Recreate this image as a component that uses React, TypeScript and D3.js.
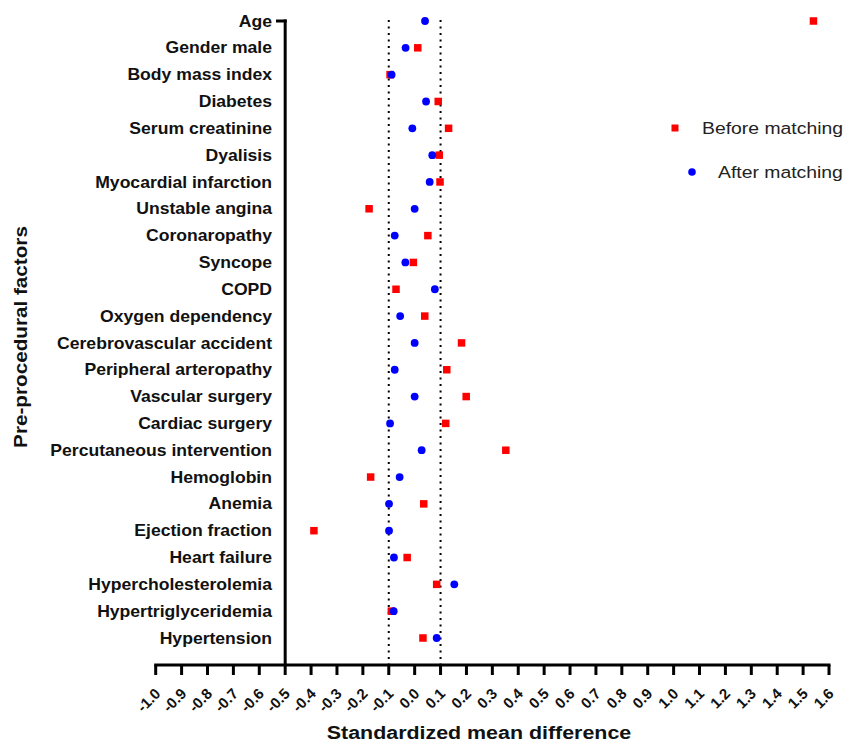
import React from 'react';
import * as d3 from 'd3';

const factors = [
  'Age', 'Gender male', 'Body mass index', 'Diabetes', 'Serum creatinine', 'Dyalisis',
  'Myocardial infarction', 'Unstable angina', 'Coronaropathy', 'Syncope', 'COPD',
  'Oxygen dependency', 'Cerebrovascular accident', 'Peripheral arteropathy', 'Vascular surgery',
  'Cardiac surgery', 'Percutaneous intervention', 'Hemoglobin', 'Anemia', 'Ejection fraction',
  'Heart failure', 'Hypercholesterolemia', 'Hypertriglyceridemia', 'Hypertension',
];

const before = [
  1.54, 0.012, -0.095, 0.091, 0.131, 0.095, 0.098, -0.176, 0.051, -0.005, -0.072, 0.039,
  0.181, 0.124, 0.199, 0.12, 0.352, -0.17, 0.035, -0.389, -0.029, 0.085, -0.09, 0.032,
];

const after = [
  0.04, -0.035, -0.089, 0.044, -0.009, 0.068, 0.058, 0.0, -0.077, -0.036, 0.078, -0.056,
  0.0, -0.077, 0.0, -0.095, 0.027, -0.058, -0.099, -0.099, -0.08, 0.153, -0.081, 0.085,
];

const xTicks = d3.range(-10, 17).map(i => i / 10);
const thresholds = [-0.1, 0.1];

const width = 845;
const height = 742;
const font = 'Liberation Sans, Arial, sans-serif';

export default function App() {
  const x = d3.scaleLinear().domain([-1, 1.6]).range([155.7, 829]);
  const y = d3.scalePoint().domain(factors).range([21, 638]);
  const axisY = 665;
  const yAxisX = x(-0.5);

  return (
    <svg width={width} height={height} style={{ position: 'absolute', left: 0, top: 0 }}>
      <rect width={width} height={height} fill="#fff" />
      {/* threshold lines */}
      {thresholds.map(t => (
        <line key={t} x1={x(t)} x2={x(t)} y1={20} y2={axisY}
          stroke="#000" strokeWidth={2} strokeDasharray="2,4.5" />
      ))}
      {/* y axis */}
      <line x1={yAxisX} x2={yAxisX} y1={19.5} y2={axisY} stroke="#000" strokeWidth={3} />
      <line x1={276} x2={yAxisX + 1.5} y1={21} y2={21} stroke="#000" strokeWidth={3} />
      {factors.map(f => (
        <text key={f} transform={`translate(272,${y(f)!}) scale(1.1,1)`} dy="0.35em" textAnchor="end"
          fontFamily={font} fontWeight="bold" fontSize={16} fill="#111">{f}</text>
      ))}
      {/* x axis */}
      <line x1={x(-1) - 1.5} x2={x(1.6) + 1.5} y1={axisY} y2={axisY} stroke="#000" strokeWidth={3} />
      {xTicks.map(t => (
        <g key={t}>
          <line x1={x(t)} x2={x(t)} y1={axisY} y2={axisY + 10} stroke="#000" strokeWidth={3} />
          <text transform={`translate(${x(t) + 2},${axisY + 26}) rotate(-45)`} textAnchor="end"
            dy="0.35em" fontFamily={font} fontWeight="bold" fontSize={15} fill="#111">
            {t.toFixed(1)}
          </text>
        </g>
      ))}
      {/* points */}
      {factors.map((f, i) => (
        <g key={f}>
          <rect x={x(before[i]) - 3.75} y={y(f)! - 3.75} width={7.5} height={7.5} fill="#f00" />
          <circle cx={x(after[i])} cy={y(f)!} r={3.9} fill="#00f" />
        </g>
      ))}
      {/* legend */}
      <rect x={671.5} y={124.5} width={7} height={7} fill="#f00" />
      <text transform="translate(702,128) scale(1.14,1)" dy="0.35em" fontFamily={font} fontSize={17} fill="#222">Before matching</text>
      <circle cx={692} cy={172} r={3.8} fill="#00f" />
      <text transform="translate(718,172) scale(1.14,1)" dy="0.35em" fontFamily={font} fontSize={17} fill="#222">After matching</text>
      {/* titles */}
      <text transform="translate(479,739) scale(1.19,1)" textAnchor="middle" fontFamily={font} fontWeight="bold" fontSize={18} fill="#111">
        Standardized mean difference
      </text>
      <text transform="translate(21,337) rotate(-90) scale(1.15,1)" textAnchor="middle" dy="0.35em"
        fontFamily={font} fontWeight="bold" fontSize={18} fill="#111">
        Pre-procedural factors
      </text>
    </svg>
  );
}
